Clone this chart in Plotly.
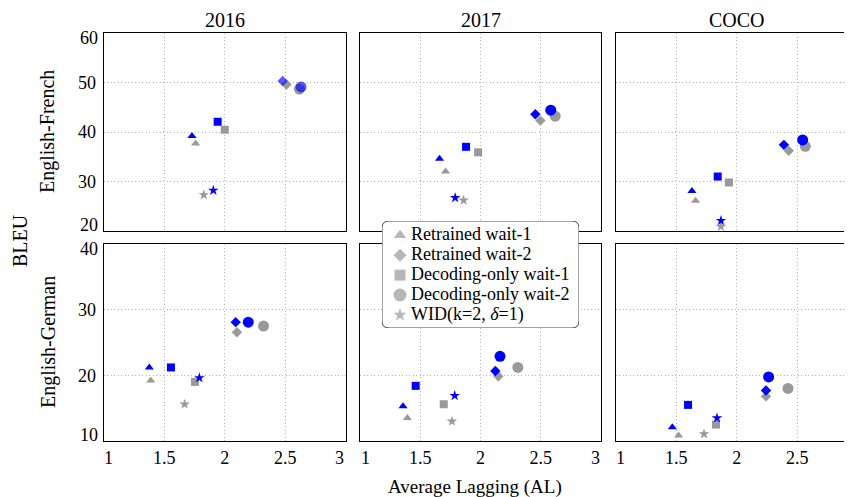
import plotly.graph_objects as go

# Method order: Retrained wait-1, Retrained wait-2, Decoding-only wait-1, Decoding-only wait-2, WID(k=2, δ=1)
methods = ["Retrained wait-1", "Retrained wait-2", "Decoding-only wait-1",
           "Decoding-only wait-2", "WID(k=2, <i>δ</i>=1)"]
symbols = ["triangle-up", "diamond", "square", "circle", "star"]
sizes = [8, 8, 8, 11, 8]
legend_sizes = [11, 10, 11, 13, 10]

col_titles = ["2016", "2017", "COCO"]
row_titles = ["English-French", "English-German"]

# English-French
fr_2016_grey_al = [1.759, 2.51, 2.0, 2.616, 1.826]
fr_2016_grey_bleu = [37.7, 49.6, 40.46, 48.65, 27.3]
fr_2016_blue_al = [1.729, 2.478, 1.941, 2.63, 1.905]
fr_2016_blue_bleu = [39.2, 50.3, 42.07, 49.1, 28.2]

fr_2017_grey_al = [1.71, 2.497, 1.98, 2.62, 1.86]
fr_2017_grey_bleu = [32.0, 42.3, 35.9, 43.2, 26.2]
fr_2017_blue_al = [1.66, 2.455, 1.88, 2.583, 1.79]
fr_2017_blue_bleu = [34.6, 43.6, 37.0, 44.4, 26.7]

fr_coco_grey_al = [1.66, 2.43, 1.936, 2.567, 1.87]
fr_coco_grey_bleu = [26.1, 36.2, 29.8, 37.1, 20.9]
fr_coco_blue_al = [1.63, 2.39, 1.843, 2.545, 1.87]
fr_coco_blue_bleu = [28.1, 37.4, 31.0, 38.4, 22.1]

# English-German
de_2016_grey_al = [1.388, 2.10, 1.754, 2.32, 1.668]
de_2016_grey_bleu = [19.2, 26.55, 19.0, 27.5, 15.6]
de_2016_blue_al = [1.376, 2.09, 1.555, 2.194, 1.79]
de_2016_blue_bleu = [21.2, 28.1, 21.2, 28.1, 19.6]

de_2017_grey_al = [1.393, 2.148, 1.695, 2.31, 1.763]
de_2017_grey_bleu = [13.5, 19.85, 15.6, 21.2, 13.0]
de_2017_blue_al = [1.357, 2.123, 1.462, 2.162, 1.786]
de_2017_blue_bleu = [15.3, 20.65, 18.4, 22.9, 16.9]

de_coco_grey_al = [1.52, 2.242, 1.829, 2.424, 1.73]
de_coco_grey_bleu = [10.85, 16.8, 12.5, 18.0, 11.05]
de_coco_blue_al = [1.468, 2.242, 1.598, 2.264, 1.837]
de_coco_blue_bleu = [12.1, 17.7, 15.5, 19.75, 13.5]

x_ticks = [1, 1.5, 2, 2.5, 3]
fr_y_ticks = [20, 30, 40, 50, 60]
de_y_ticks = [10, 20, 30, 40]

panels = [
    (fr_2016_grey_al, fr_2016_grey_bleu, fr_2016_blue_al, fr_2016_blue_bleu),
    (fr_2017_grey_al, fr_2017_grey_bleu, fr_2017_blue_al, fr_2017_blue_bleu),
    (fr_coco_grey_al, fr_coco_grey_bleu, fr_coco_blue_al, fr_coco_blue_bleu),
    (de_2016_grey_al, de_2016_grey_bleu, de_2016_blue_al, de_2016_blue_bleu),
    (de_2017_grey_al, de_2017_grey_bleu, de_2017_blue_al, de_2017_blue_bleu),
    (de_coco_grey_al, de_coco_grey_bleu, de_coco_blue_al, de_coco_blue_bleu),
]

# the page body has an 8px margin, so the figure is sized to end at the window edge
OFF = 8
W, H = 852 - OFF, 497 - OFF
GREY = "#999999"
BLUE = "#0000ff"
FONT = "Liberation Serif"
GRID = "#b4b4b4"
TICK_SIZE = 18

def px_x(p):
    return (p - OFF) / W

def px_y(p):
    return 1 - (p - OFF) / H

def fmt(v):
    return f"{v:g}"

x_domains = [[px_x(103.8), px_x(345.8)], [px_x(360), px_x(601)], [px_x(615.7), 1.0]]
x_ranges = [[1, 3], [1, 3], [1, 1 + (852 - 615.7) / 121]]
y_domains = [[px_y(231), px_y(33)], [px_y(441), px_y(244)]]
y_ranges = [[20, 60], [10, 40]]
XLAB_Y = 458       # window-pixel row of the x tick labels
END_SHIFT = 6      # end tick labels are nudged inward, as in the original

# legend box geometry (window pixels)
LBOX = (382, 579, 221, 328)
leg_marker_x = 400
leg_text_x = 411
leg_rows_y = [235.3, 255.2, 275.1, 295.0, 315.0]

fig = go.Figure()

for idx, (gx, gy, bx, by) in enumerate(panels):
    n = idx + 1
    xa = "x" if n == 1 else f"x{n}"
    ya = "y" if n == 1 else f"y{n}"
    for i in range(len(methods)):
        fig.add_trace(go.Scatter(
            x=[gx[i]], y=[gy[i]], mode="markers", xaxis=xa, yaxis=ya,
            marker=dict(symbol=symbols[i], size=sizes[i], color=GREY, line=dict(width=0)),
            showlegend=False, hoverinfo="skip", cliponaxis=False))
    for i in range(len(methods)):
        op = 0.65 if (idx == 0 and i in (1, 3)) else 1.0
        fig.add_trace(go.Scatter(
            x=[bx[i]], y=[by[i]], mode="markers", xaxis=xa, yaxis=ya,
            marker=dict(symbol=symbols[i], size=sizes[i], color=BLUE, opacity=op,
                        line=dict(width=0)),
            showlegend=False, hoverinfo="skip", cliponaxis=False))

# legend drawn in its own small subplot (x7/y7) with pixel-like ranges
fig.add_trace(go.Scatter(
    x=[leg_marker_x] * len(methods), y=leg_rows_y, mode="markers", xaxis="x7", yaxis="y7",
    marker=dict(symbol=symbols, size=legend_sizes, color=GREY, line=dict(width=0)),
    showlegend=False, hoverinfo="skip", cliponaxis=False))
fig.add_trace(go.Scatter(
    x=[leg_text_x] * len(methods), y=leg_rows_y, mode="text", xaxis="x7", yaxis="y7",
    text=methods, textposition="middle right",
    textfont=dict(family=FONT, size=18, color="black"),
    showlegend=False, hoverinfo="skip", cliponaxis=False))

layout = dict(
    width=W, height=H,
    margin=dict(l=0, r=0, t=0, b=0, autoexpand=False),
    paper_bgcolor="white", plot_bgcolor="white",
    font=dict(family=FONT, size=18, color="black"),
    showlegend=False,
)

annotations = []

for idx in range(6):
    r, c = divmod(idx, 3)
    n = idx + 1
    xk = "xaxis" if n == 1 else f"xaxis{n}"
    yk = "yaxis" if n == 1 else f"yaxis{n}"
    ya_name = "y" if n == 1 else f"y{n}"
    xa_name = "x" if n == 1 else f"x{n}"
    # x tick labels: inner ones from the axis, end ones as nudged annotations
    xt_text = [fmt(t) if (t != x_ticks[0] and t != x_ticks[-1]) else "" for t in x_ticks]
    layout[xk] = dict(
        domain=x_domains[c], range=x_ranges[c], anchor=ya_name,
        tickvals=x_ticks, ticktext=xt_text,
        showticklabels=(r == 1), automargin=False, ticklabelstandoff=0,
        showgrid=True, gridcolor=GRID, griddash="1px,2.5px", gridwidth=1,
        zeroline=False, showline=True, linecolor="black", linewidth=1.3, mirror=True,
        ticks="", tickfont=dict(family=FONT, size=TICK_SIZE),
    )
    yt = fr_y_ticks if r == 0 else de_y_ticks
    yt_text = [fmt(t) if (t != yt[0] and t != yt[-1]) else "" for t in yt]
    layout[yk] = dict(
        domain=y_domains[r], range=y_ranges[r], anchor=xa_name,
        tickvals=yt, ticktext=yt_text, showticklabels=(c == 0),
        automargin=False, ticklabelstandoff=3,
        showgrid=True, gridcolor=GRID, griddash="1px,2.5px", gridwidth=1,
        zeroline=False, showline=True, linecolor="black", linewidth=1.3,
        mirror=(c != 2), ticks="", tickfont=dict(family=FONT, size=TICK_SIZE),
    )
    if r == 1:
        # first x tick ("1")
        annotations.append(dict(text=fmt(x_ticks[0]), x=x_ticks[0], xref=xa_name,
                                y=px_y(XLAB_Y), yref="paper", xshift=END_SHIFT - 1,
                                showarrow=False, font=dict(family=FONT, size=TICK_SIZE),
                                xanchor="center", yanchor="middle"))
        # last x tick ("3"); for the cut-off third column it sits at the window edge
        if c < 2:
            annotations.append(dict(text=fmt(x_ticks[-1]), x=x_ticks[-1], xref=xa_name,
                                    y=px_y(XLAB_Y), yref="paper", xshift=-END_SHIFT,
                                    showarrow=False, font=dict(family=FONT, size=TICK_SIZE),
                                    xanchor="center", yanchor="middle"))
        else:
            annotations.append(dict(text=fmt(x_ticks[-1]), x=px_x(853), xref="paper",
                                    y=px_y(XLAB_Y), yref="paper",
                                    showarrow=False, font=dict(family=FONT, size=TICK_SIZE),
                                    xanchor="center", yanchor="middle"))
    if c == 0:
        for t, sh in ((yt[0], END_SHIFT), (yt[-1], -END_SHIFT + 1)):
            annotations.append(dict(text=fmt(t), x=x_domains[0][0], xref="paper",
                                    y=t, yref=ya_name, yshift=sh, xshift=-4,
                                    showarrow=False, font=dict(family=FONT, size=TICK_SIZE),
                                    xanchor="right", yanchor="middle"))

layout["xaxis7"] = dict(domain=[px_x(LBOX[0]), px_x(LBOX[1])], range=[LBOX[0], LBOX[1]],
                        anchor="y7", visible=False, automargin=False)
layout["yaxis7"] = dict(domain=[px_y(LBOX[3]), px_y(LBOX[2])], range=[LBOX[3], LBOX[2]],
                        anchor="x7", visible=False, automargin=False)

fig.update_layout(**layout)

col_centers = [(x_domains[0][0] + x_domains[0][1]) / 2,
               (x_domains[1][0] + x_domains[1][1]) / 2,
               px_x(737)]
for c, t in enumerate(col_titles):
    annotations.append(dict(text=t, x=col_centers[c], y=px_y(20), xref="paper", yref="paper",
                            showarrow=False, font=dict(family=FONT, size=20),
                            xanchor="center", yanchor="middle"))
annotations.append(dict(text=row_titles[0], x=px_x(48), y=px_y(132), xref="paper", yref="paper",
                        showarrow=False, textangle=-90, font=dict(family=FONT, size=20),
                        xanchor="center", yanchor="middle"))
annotations.append(dict(text=row_titles[1], x=px_x(48), y=px_y(342), xref="paper", yref="paper",
                        showarrow=False, textangle=-90, font=dict(family=FONT, size=20),
                        xanchor="center", yanchor="middle"))
annotations.append(dict(text="BLEU", x=px_x(20), y=px_y(241), xref="paper", yref="paper",
                        showarrow=False, textangle=-90, font=dict(family=FONT, size=20),
                        xanchor="center", yanchor="middle"))
annotations.append(dict(text="Average Lagging (AL)", x=px_x(475), y=px_y(487), xref="paper", yref="paper",
                        showarrow=False, font=dict(family=FONT, size=19),
                        xanchor="center", yanchor="middle"))
fig.update_layout(annotations=annotations)

# rounded legend box (in the legend subplot's pixel-like coordinates, drawn below its marks)
x0, x1, y0, y1 = LBOX
rr = 7
path = (f"M {x0+rr},{y0} L {x1-rr},{y0} Q {x1},{y0} {x1},{y0+rr} "
        f"L {x1},{y1-rr} Q {x1},{y1} {x1-rr},{y1} L {x0+rr},{y1} "
        f"Q {x0},{y1} {x0},{y1-rr} L {x0},{y0+rr} Q {x0},{y0} {x0+rr},{y0} Z")
fig.add_shape(type="path", path=path, xref="x7", yref="y7",
              fillcolor="white", line=dict(color="#444444", width=1), layer="below")

fig.write_html("out.html")
